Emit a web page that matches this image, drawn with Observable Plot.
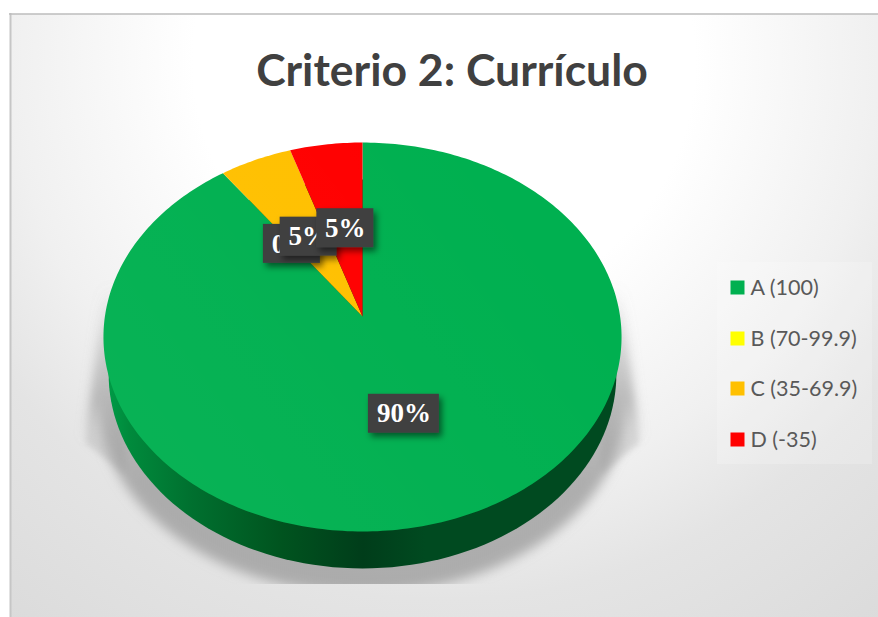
<!DOCTYPE html>
<html><head><meta charset="utf-8">
<script src="https://cdn.jsdelivr.net/npm/d3@7"></script>
<script src="https://cdn.jsdelivr.net/npm/@observablehq/plot@0.6"></script>
<style>html,body{margin:0;padding:0;background:#fff}svg{display:block}</style>
</head><body><div id="chart"></div>
<script>
const title = "Criterio 2: Currículo";
const categories = ["A (100)", "B (70-99.9)", "C (35-69.9)", "D (-35)"];
const values = [90, 0, 5, 5];
const colors = ["#00B050", "#FFFF00", "#FFC000", "#FF0000"];

const W = 878, H = 617;
const cx = 362, cy = 316, a = 257.6, b = 192.3, q = 0.1054;
const ux = px => (px - cx) / a, uy = py => (cy - py) / b;
// tilted disc: polar position (fraction of the turn, radius) -> plot units
const disc = (t, r = 1) => {
  const th = 2 * Math.PI * t, u = r * Math.sin(th), v = r * Math.cos(th), w = 1 + q * v;
  return [u / w, v / w];
};
const total = d3.sum(values);
let acc = 0;
const labelNudge = [[-0.5, 1], [2, 2], [2, 2], [2, 2]];
const slices = categories.map((c, i) => {
  const t0 = acc / total; acc += values[i]; const t1 = acc / total;
  const mid = (t0 + t1) / 2;
  const [lx, ly] = disc(mid, 0.5);
  return {cat: c, value: values[i], t0, t1, lx, ly, label: values[i] + "%", nx: labelNudge[i][0], ny: labelNudge[i][1]};
});
const slicePts = slices.flatMap(s => {
  const n = Math.max(2, Math.ceil((s.t1 - s.t0) * 360));
  const pts = [{cat: s.cat, p: [0, 0]}];
  for (let k = 0; k <= n; k++) pts.push({cat: s.cat, p: disc(s.t0 + (s.t1 - s.t0) * k / n)});
  return pts;
});
const rim = d3.range(0, 361, 2).map(d => disc(d / 360));
// the disc's lower edge and its floor shadow, built from the same rim
const topY = d3.max(rim, p => p[1]), botY = d3.min(rim, p => p[1]);
const midY = (topY + botY) / 2, ry = (topY - botY) / 2, rx = d3.max(rim, p => p[0]);
const wall = rim.map(([x, y]) => [x * 0.98, y - 37 / b]);
const shadowArc = d3.range(90, 271, 3).map(d => {
  const th = d * Math.PI / 180;
  return [rx * 1.022 * Math.sin(th), midY - 62 / b + ry * Math.cos(th)];
});
const shadow = [[ux(621), uy(285)], [ux(639), uy(440)], ...shadowArc, [ux(85), uy(440)], [ux(103), uy(285)]];
const wedges = [
  {side: "left", pts: [[103, 300], [85, 442], [125, 475], [125, 300]]},
  {side: "right", pts: [[621, 300], [639, 442], [600, 475], [600, 300]]}
].flatMap(w => w.pts.map(p => ({side: w.side, x: ux(p[0]), y: uy(p[1])})));

const defs = () => {
  const g = d3.create("svg:g");
  g.html(`<defs>
    <radialGradient id="bg" gradientUnits="userSpaceOnUse" cx="444" cy="60" r="760">
      <stop offset="0" stop-color="#ffffff"/><stop offset="0.33" stop-color="#ffffff"/>
      <stop offset="0.57" stop-color="#f0f0f0"/><stop offset="0.71" stop-color="#e4e4e4"/>
      <stop offset="0.91" stop-color="#dcdcdc"/><stop offset="1" stop-color="#d9d9d9"/>
    </radialGradient>
    <linearGradient id="wallG" gradientUnits="userSpaceOnUse" x1="103" x2="622" y1="0" y2="0">
      <stop offset="0" stop-color="#009e48"/><stop offset="0.05" stop-color="#008a3c"/>
      <stop offset="0.17" stop-color="#00702f"/><stop offset="0.34" stop-color="#00541f"/>
      <stop offset="0.5" stop-color="#003d1a"/><stop offset="0.62" stop-color="#004a20"/>
      <stop offset="1" stop-color="#004a20"/>
    </linearGradient>
    <linearGradient id="shadowG" gradientUnits="userSpaceOnUse" x1="0" x2="0" y1="285" y2="480">
      <stop offset="0" stop-color="#999" stop-opacity="0"/>
      <stop offset="0.6" stop-color="#999" stop-opacity="0.55"/>
      <stop offset="1" stop-color="#999" stop-opacity="0.75"/>
    </linearGradient>
    <linearGradient id="wedgeG" gradientUnits="userSpaceOnUse" x1="0" x2="0" y1="300" y2="445">
      <stop offset="0" stop-color="#aaa" stop-opacity="0"/>
      <stop offset="1" stop-color="#aaa" stop-opacity="0.4"/>
    </linearGradient>
    <linearGradient id="sheen" gradientUnits="userSpaceOnUse" x1="130" y1="500" x2="520" y2="200">
      <stop offset="0" stop-color="#fff" stop-opacity="0.035"/><stop offset="1" stop-color="#fff" stop-opacity="0"/>
    </linearGradient>
    <filter id="blur" filterUnits="userSpaceOnUse" x="0" y="0" width="${W}" height="583">
      <feGaussianBlur stdDeviation="6"/>
    </filter>
    <filter id="softBlur" filterUnits="userSpaceOnUse" x="0" y="0" width="${W}" height="583">
      <feGaussianBlur stdDeviation="3"/>
    </filter>
    <filter id="boxShadow" x="-30%" y="-40%" width="170%" height="200%">
      <feDropShadow dx="3" dy="4" stdDeviation="3" flood-color="#000" flood-opacity="0.5"/>
    </filter>
  </defs>`);
  return g.node();
};
const withFilter = id => (i, s, v, d, c, next) => {
  const g = next(i, s, v, d, c);
  g.setAttribute("filter", `url(#${id})`);
  return g;
};
const boxHalf = s => (s.value >= 10 ? 35.5 : 28.5);

const labelMarks = slices.flatMap(s => [
  Plot.rect([s], {
    x1: d => d.lx + (d.nx - boxHalf(d)) / a, x2: d => d.lx + (d.nx + boxHalf(d)) / a,
    y1: d => d.ly - (d.ny + 19.5) / b, y2: d => d.ly - (d.ny - 19.5) / b,
    fill: "#404040", render: withFilter("boxShadow")
  }),
  Plot.text([s], {
    x: d => d.lx + d.nx / a, y: d => d.ly - d.ny / b, text: "label", fill: "#fff",
    fontFamily: "'Liberation Serif'", fontWeight: 700, fontSize: 27
  })
]);

const legendRows = [287, 338, 388, 439];
const legend = categories.map((c, i) => ({cat: c, x: ux(737), tx: ux(750), y: uy(legendRows[i]), ty: uy(legendRows[i] + 1)}));

const plot = Plot.plot({
  width: W, height: H, margin: 0,
  x: {domain: [-1, 1], range: [cx - a, cx + a], axis: null},
  y: {domain: [-1, 1], range: [cy + b, cy - b], axis: null},
  color: {domain: categories, range: colors},
  style: {background: "#fff"},
  marks: [
    defs,
    Plot.rect([0], {x1: ux(10), x2: ux(W), y1: uy(14), y2: uy(H), fill: "url(#bg)"}),
    Plot.ruleX([ux(10)], {y1: uy(13), y2: uy(H), stroke: "#c6c6c6", strokeWidth: 2}),
    Plot.ruleY([uy(13.5)], {x1: ux(9), x2: ux(W), stroke: "#bdbdbd", strokeWidth: 1.5}),
    Plot.rect([0], {x1: ux(717), x2: ux(872), y1: uy(262), y2: uy(464), fill: "#fff", fillOpacity: 0.2}),
    Plot.line(wedges, {x: "x", y: "y", z: "side", fill: "url(#wedgeG)", stroke: "none", render: withFilter("softBlur")}),
    Plot.line(shadow, {x: d => d[0], y: d => d[1], fill: "url(#shadowG)", stroke: "none", render: withFilter("blur")}),
    Plot.line(wall, {x: d => d[0], y: d => d[1], fill: "url(#wallG)", stroke: "none"}),
    Plot.line(slicePts, {x: d => d.p[0], y: d => d.p[1], z: "cat", fill: "cat", stroke: "none"}),
    Plot.line(rim, {x: d => d[0], y: d => d[1], fill: "url(#sheen)", stroke: "none"}),
    ...labelMarks,
    Plot.text([title], {x: ux(451.5), y: uy(71), text: d => d, fill: "#404040",
      fontFamily: "Lato", fontWeight: 700, fontSize: 44.5}),
    Plot.dot(legend, {x: "x", y: "y", fill: "cat", symbol: "square", r: 7.9, stroke: "none"}),
    Plot.text(legend, {x: "tx", y: "ty", text: "cat", textAnchor: "start", fill: "#595959",
      fontFamily: "Lato", fontSize: 21.5})
  ]
});
document.getElementById("chart").append(plot);
</script>
</body></html>
